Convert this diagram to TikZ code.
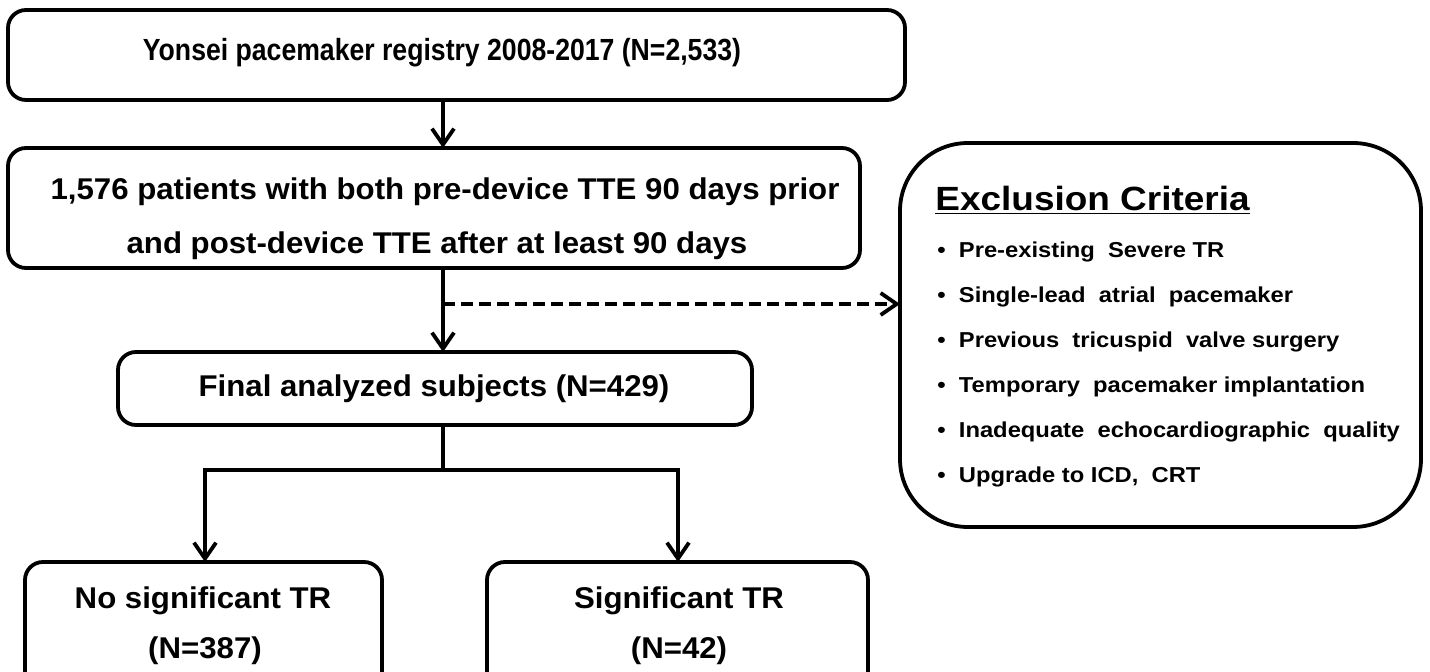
\documentclass[tikz,border=0pt]{standalone}
\usepackage{fontspec}
\setmainfont{Liberation Sans}
\newfontfamily\widefont[FakeStretch=1.04]{Liberation Sans}
\newfontfamily\exfont[FakeStretch=1.1]{Liberation Sans}
\newfontfamily\narrowfont[FakeStretch=0.87]{Liberation Sans}
\usetikzlibrary{arrows.meta}
\begin{document}
\begin{tikzpicture}[x=0.5pt,y=-0.5pt,
  box/.style={draw, line width=1.9pt, rounded corners=9pt},
  conn/.style={line width=1.9pt},
  tip/.style={-{Straight Barb[length=8pt,width=11pt,line width=1.9pt]}},
  arr/.style={conn, tip},
  maintext/.style={font=\widefont\bfseries\fontsize{15}{15}\selectfont, anchor=center},
  firsttext/.style={font=\narrowfont\bfseries\fontsize{15.3}{15.3}\selectfont, anchor=center},
  itemtext/.style={font=\exfont\bfseries\fontsize{10.8}{10.8}\selectfont, anchor=west, inner sep=0pt}]
\useasboundingbox (0,0) rectangle (1430,672);
% boxes
\draw[box] (8,10) rectangle (905,100);
\node[firsttext] (t1) at (442,53) {Yonsei pacemaker registry 2008-2017 (N=2,533)};
\coordinate (b1) at (443,100);
\draw[box] (8,148) rectangle (860,268);
\node[maintext] (t2a) at (445,192) {1,576 patients with both pre-device TTE 90 days prior};
\node[maintext] (t2b) at (437,246) {and post-device TTE after at least 90 days};
\coordinate (b2top) at (443,148);
\coordinate (b2bot) at (443,268);
\draw[box] (118,352) rectangle (752,425);
\node[maintext] (t3) at (434,389) {Final analyzed subjects (N=429)};
\coordinate (b3top) at (443,352);
\coordinate (b3bot) at (443,425);
\draw[box] (25,562) rectangle (382,700);
\node[maintext] (t4a) at (203,601) {No significant TR};
\node[maintext] (t4b) at (205,651) {(N=387)};
\coordinate (b4top) at (205,562);
\draw[box] (487,562) rectangle (868,700);
\node[maintext] (t5a) at (679,601) {Significant TR};
\node[maintext] (t5b) at (679,651) {(N=42)};
\coordinate (b5top) at (678,562);
% exclusion
\draw[line width=1.9pt, rounded corners=34pt] (900,143) rectangle (1421,527);
\node[anchor=west, font=\exfont\bfseries\fontsize{16.8}{16.8}\selectfont, inner sep=0pt] (ex) at (935,200) {\underline{Exclusion Criteria}};
\coordinate (exl) at (900,304);
\foreach \y/\t [count=\i] in {252/{Pre-existing\ \ Severe TR},297/{Single-lead\ \ atrial\ \ pacemaker},342/{Previous\ \ tricuspid\ \ valve surgery},387/{Temporary\ \ pacemaker implantation},432/{Inadequate\ \ echocardiographic\ \ quality},477/{Upgrade to ICD,\ \ CRT}}{
  \node[itemtext] (it\i) at (937,\y) {\textbullet\ \ \t};
}
% connectors
\draw[arr] (b1) -- (b2top);
\draw[arr] (b2bot) -- (b3top);
\coordinate (dj) at (443,304);
\draw[conn, dash pattern=on 6pt off 3pt, tip] (dj) -- (exl);
\coordinate (split) at (443,470);
\draw[conn] (b3bot) -- (split);
\draw[arr] (split) -| (b4top);
\draw[arr] (split) -| (b5top);
\end{tikzpicture}
\end{document}
